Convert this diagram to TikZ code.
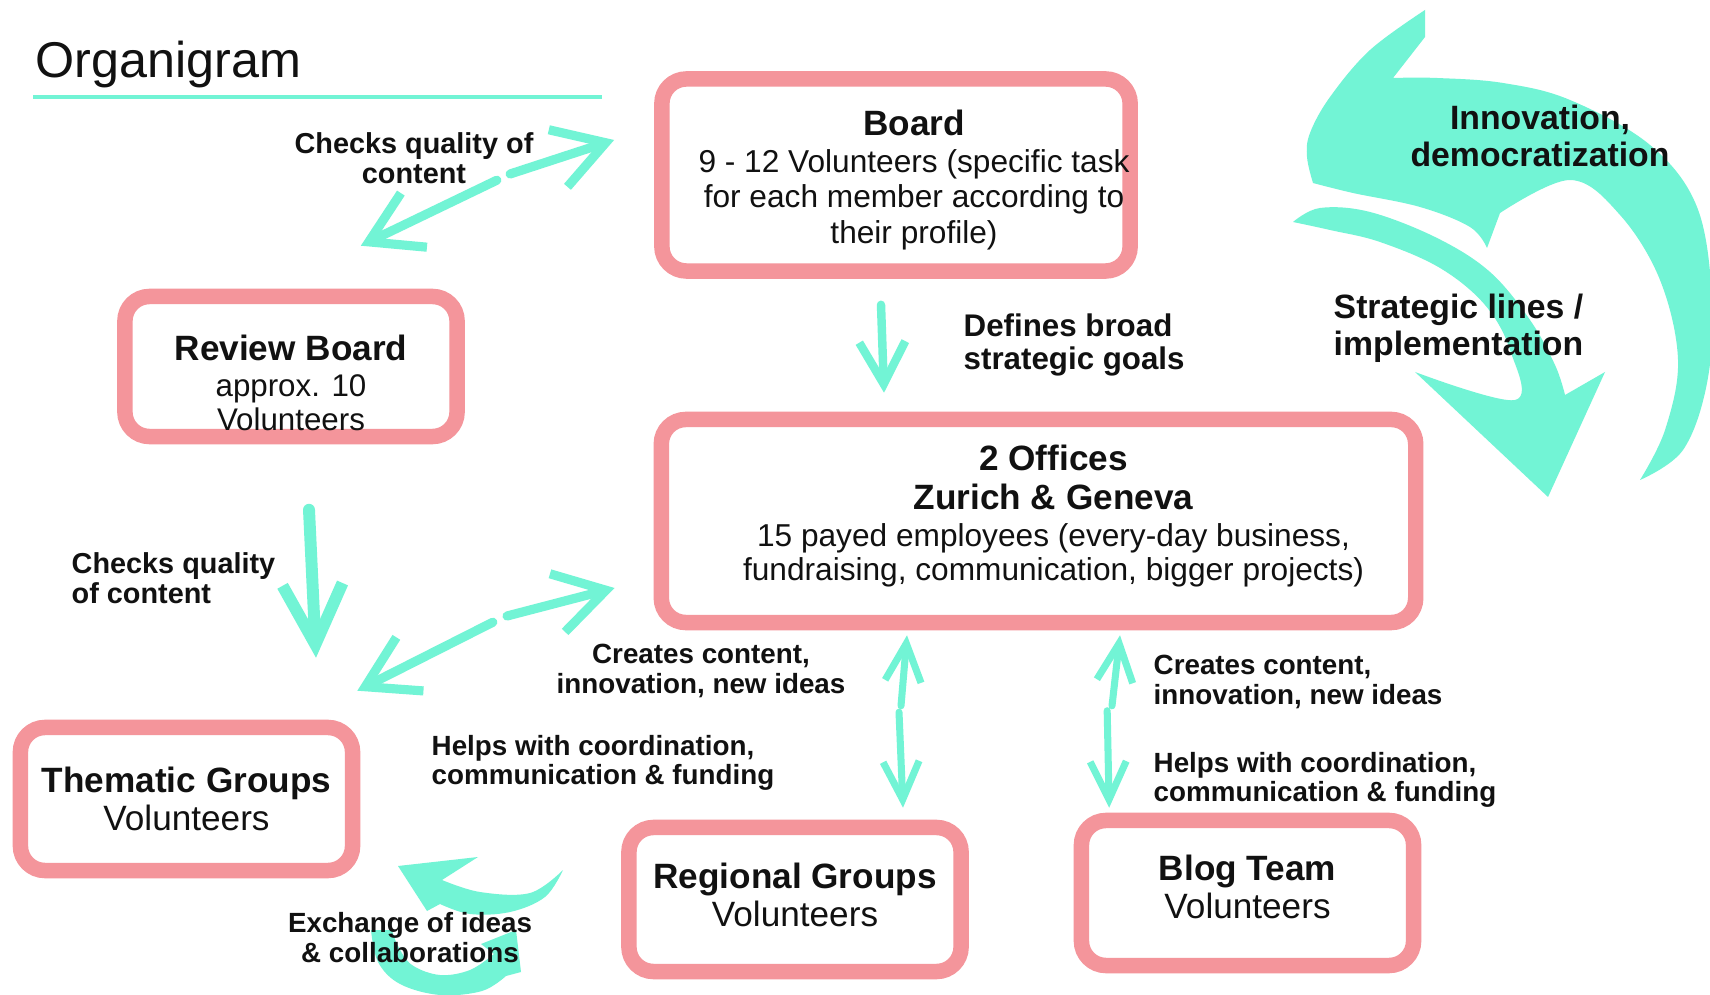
\documentclass[tikz,border=0pt]{standalone}
\usepackage{fontspec}
\setmainfont{Liberation Sans}
\usetikzlibrary{arrows.meta}
\definecolor{Mint}{HTML}{72F4D5}
\definecolor{Coral}{HTML}{F4959B}
\definecolor{TextInk}{HTML}{111111}
\newcommand{\headfont}{\bfseries\fontsize{10}{10.8}\selectfont}

\begin{document}
\begin{tikzpicture}[x=0.01cm,y=-0.01cm,every node/.style={text=TextInk},unitbox/.style={draw=Coral,fill=white,line width=4.4pt,rounded corners=7pt,inner sep=0pt,minimum width=3.32cm,minimum height=1.43cm},boardbox/.style={unitbox,minimum width=4.68cm,minimum height=1.92cm},officebox/.style={unitbox,minimum width=7.54cm,minimum height=2.03cm},boxtext/.style={inner sep=0pt,align=center,font=\fontsize{9}{10}\selectfont},notelabel/.style={inner sep=0pt,font=\bfseries\fontsize{8.2}{8.5}\selectfont},widelabel/.style={inner sep=0pt,font=\bfseries\fontsize{8.9}{9.4}\selectfont},sidelabel/.style={inner sep=0pt,font=\bfseries\fontsize{9.6}{10.4}\selectfont},finelabel/.style={inner sep=0pt,font=\bfseries\fontsize{7.9}{8.3}\selectfont},mintarrow/.style={-{Straight Barb[length=5mm,width=6mm]},draw=Mint,line width=2.6pt,line cap=round},smallarrow/.style={-{Straight Barb[length=3.8mm,width=3.6mm]},draw=Mint,line width=2pt,line cap=round}]
\fill[white] (0,0) rectangle (1710,995);
\useasboundingbox (0,0) rectangle (1710,995);
\node[anchor=base west,inner sep=0pt,font=\fontsize{14.3}{16}\selectfont] (title) at (35,78) {Organigram};
\draw[Mint,line width=1.4pt] ([shift={(-2,19)}]title.base west) -- ++(569,0);
\fill[Mint] (1640,480) -- plot[smooth,tension=0.6] coordinates {(1640,480) (1683,450) (1707,383) (1712,300) (1697,207) (1650,145) (1570,100) (1503,83) (1437,78) (1393,78)} -- (1425,37) -- (1425,10) -- plot[smooth,tension=0.6] coordinates {(1425,10) (1370,50) (1330,97) (1310,133) (1307,157) (1313,183)} -- plot[smooth,tension=0.6] coordinates {(1313,183) (1353,193) (1420,207) (1470,227) (1487,248)} -- (1500,213) -- plot[smooth,tension=0.6] coordinates {(1500,213) (1570,180) (1620,215) (1660,280) (1678,360) (1665,430) (1640,480)} -- cycle;
\fill[Mint] (1293,222) -- plot[smooth,tension=0.6] coordinates {(1293,222) (1320,208) (1370,212) (1437,238) (1490,272) (1530,320) (1555,365) (1565,395)} -- (1605,372) -- (1548,497) -- (1415,372) -- plot[smooth,tension=0.6] coordinates {(1415,372) (1515,400) (1510,350) (1485,305) (1440,268) (1380,242) (1330,230) (1293,222)} -- cycle;
\fill[Mint] (563,870) -- plot[smooth,tension=0.6] coordinates {(563,870) (545,897) (510,912) (470,914) (440,904)} -- (427,911) -- (398,866) -- (478,857) -- (442,880) -- plot[smooth,tension=0.6] coordinates {(442,880) (480,892) (530,893) (563,870)} -- cycle;
\fill[Mint] (371,930) -- plot[smooth,tension=0.6] coordinates {(371,930) (378,962) (400,984) (440,995) (482,991) (506,976)} -- (521,972) -- (516,930) -- (481,944) -- (494,954) -- plot[smooth,tension=0.6] coordinates {(494,954) (470,970) (440,975) (412,965) (398,946) (392,930)} -- cycle;
\node[unitbox,minimum height=1.4cm] (review) at (291,366.5) {};
\node[boardbox] (board) at (896,175) {};
\node[officebox] (offices) at (1038.5,521) {};
\node[unitbox] (thematic) at (186.5,799) {};
\node[unitbox,minimum height=1.44cm] (regional) at (795,899.5) {};
\node[unitbox,minimum height=1.45cm] (blog) at (1247.5,893) {};
\node[boxtext] (boardtext) at ([shift={(18,5)}]board.center) {{\headfont Board}\\[0.5pt]9 - 12 Volunteers (specific task\\for each member according to\\their profile)};
\node[boxtext,font=\fontsize{8.9}{9.8}\selectfont] (reviewtext) at ([shift={(0,16.5)}]review.center) {{\headfont Review Board}\\[0.4pt]approx. 10\\Volunteers};
\node[boxtext,font=\fontsize{9}{9.7}\selectfont] (officetext) at ([shift={(15,-5)}]offices.center) {{\headfont 2 Offices}\\[1.4pt]{\headfont Zurich \& Geneva}\\[0.8pt]15 payed employees (every-day business,\\fundraising, communication, bigger projects)};
\node[boxtext,font=\fontsize{10}{10.8}\selectfont] (thematictext) at (thematic.center) {{\headfont Thematic Groups}\\Volunteers};
\node[boxtext,font=\fontsize{10}{10.8}\selectfont] (regionaltext) at ([shift={(0,-5)}]regional.center) {{\headfont Regional Groups}\\Volunteers};
\node[boxtext,font=\fontsize{10}{10.8}\selectfont] (blogtext) at ([shift={(0,-6)}]blog.center) {{\headfont Blog Team}\\Volunteers};
\draw[mintarrow] ([shift={(-144,-1)}]board.west) -- ([shift={(-40,-35)}]board.west);
\draw[mintarrow] ([shift={(32,-108.5)}]review.north east) -- ([shift={(-104,-43)}]review.north east);
\draw[mintarrow,line width=2.4pt,-{Straight Barb[length=4.2mm,width=4.6mm]}] ([shift={(-15,26)}]board.south) -- ([shift={(-154.5,-19)}]offices.north);
\draw[mintarrow,line width=3.4pt,-{Straight Barb[length=6mm,width=6mm]}] ([shift={(18,65.5)}]review.south) -- ([shift={(129.5,-62)}]thematic.north);
\draw[mintarrow] ([shift={(-146.5,95)}]offices.west) -- ([shift={(-39,67)}]offices.west);
\draw[mintarrow] ([shift={(132.5,-97.5)}]thematic.north east) -- ([shift={(-3,-29)}]thematic.north east);
\draw[smallarrow] ([shift={(-137.5,75.5)}]offices.south) -- ([shift={(-131.5,5)}]offices.south);
\draw[smallarrow] ([shift={(104,-107.5)}]regional.north) -- ([shift={(108,-12)}]regional.north);
\draw[smallarrow] ([shift={(73.5,75.5)}]offices.south) -- ([shift={(81.5,5)}]offices.south);
\draw[smallarrow] ([shift={(33.5,-102)}]blog.north west) -- ([shift={(35.5,-5)}]blog.north west);
\node[notelabel,align=center] (checkstop) at (414,158) {Checks quality of\\content};
\node[widelabel,anchor=west,align=left] (defines) at (963,345) {Defines broad\\strategic goals};
\node[sidelabel,align=center] (innovation) at (1540,136) {Innovation,\\democratization};
\node[sidelabel,anchor=west,align=left] (strategic) at (1333,328) {Strategic lines /\\implementation};
\node[notelabel,anchor=west,align=left] (checksleft) at (71,578) {Checks quality\\of content};
\node[finelabel,align=center] (createsleft) at (701,671) {Creates content,\\innovation, new ideas};
\node[finelabel,anchor=west,align=left] (createsright) at (1153,682) {Creates content,\\innovation, new ideas};
\node[finelabel,anchor=west,align=left] (helpsleft) at (431,762.5) {Helps with coordination,\\communication \& funding};
\node[finelabel,anchor=west,align=left] (helpsright) at (1153,780) {Helps with coordination,\\communication \& funding};
\node[finelabel,align=center] (exchange) at (410,937.5) {Exchange of ideas\\\& collaborations};
\end{tikzpicture}
\end{document}
